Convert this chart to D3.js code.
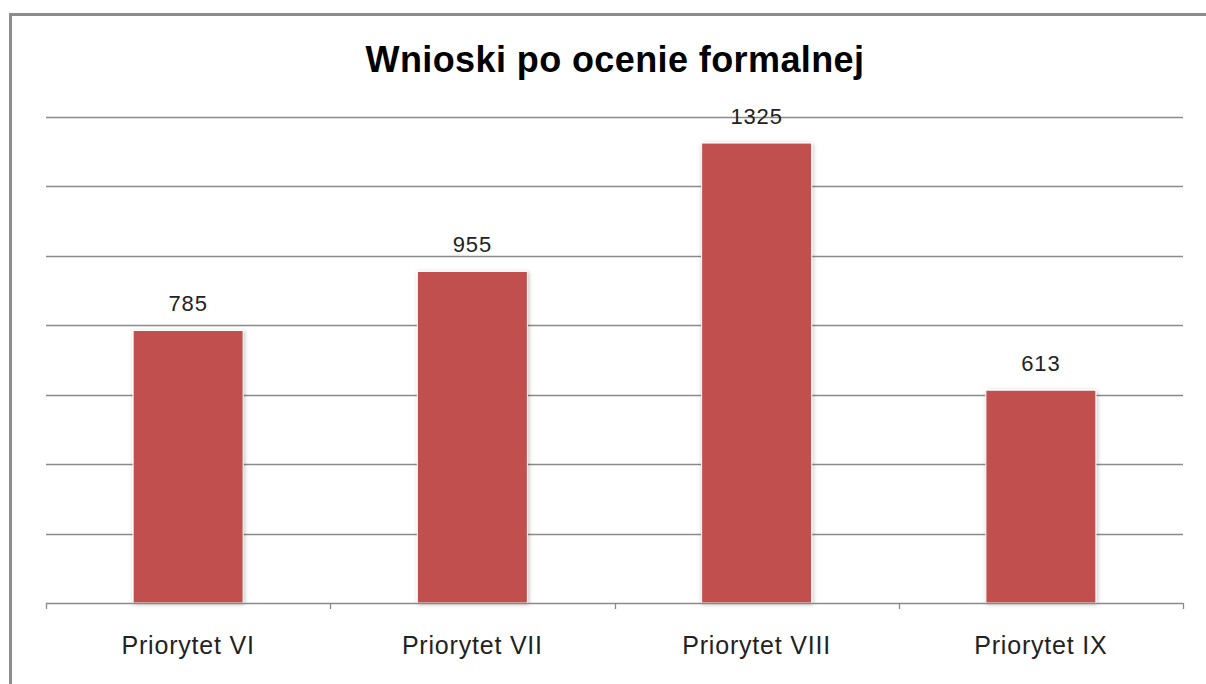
<!DOCTYPE html>
<meta charset="utf-8">
<script src="https://cdn.jsdelivr.net/npm/d3@7"></script>
<style>
body {margin: 0; background: #fff;}
svg text {font-family: "Liberation Sans", Arial, sans-serif;}
.title {font-size: 36px; font-weight: bold; text-anchor: middle; fill: #000; letter-spacing: 0.4px;}
.label-val {font-size: 22px; text-anchor: middle; fill: #222; letter-spacing: 0.8px;}
.label-cat {font-size: 25px; text-anchor: middle; fill: #222; letter-spacing: 0.8px;}
.grid line {stroke: #8a8a8a; stroke-width: 1.3;}
</style>
<div id="vis"></div>
<script>

// Data
const categories = ["Priorytet VI", "Priorytet VII", "Priorytet VIII", "Priorytet IX"];
const values = [785, 955, 1325, 613];
const gridTicks = [0, 200, 400, 600, 800, 1000, 1200, 1400];

const w = 1206, h = 684;
const margin = {top: 117, right: 23, bottom: 81, left: 46};
const width = w - margin.left - margin.right,
    height = h - margin.top - margin.bottom;

let svg = d3.select("#vis").append("svg")
    .attr("width", w)
    .attr("height", h);

// shadow for bars
let defs = svg.append("defs");
let f = defs.append("filter").attr("id", "shadow")
    .attr("x", "-20%").attr("y", "-10%").attr("width", "140%").attr("height", "120%");
f.append("feDropShadow").attr("dx", 1).attr("dy", 1).attr("stdDeviation", 2)
    .attr("flood-color", "#000").attr("flood-opacity", 0.25);

// outer frame (left and top edges only are visible)
svg.append("path")
    .attr("d", "M10.5," + h + " V14.5 H" + w)
    .attr("fill", "none")
    .attr("stroke", "#8c8c8c")
    .attr("stroke-width", 3);

svg.append("text")
    .attr("class", "title")
    .attr("x", 615)
    .attr("y", 72)
    .text("Wnioski po ocenie formalnej");

let g = svg.append("g")
    .attr("transform", "translate(" + margin.left + "," + margin.top + ")");

let x = d3.scaleBand()
    .domain(categories)
    .range([0, width])
    .paddingInner(0.613)
    .paddingOuter(0.3065);

let y = d3.scaleLinear()
    .domain([0, 1400])
    .range([height, 0]);

// gridlines
g.append("g")
    .attr("class", "grid")
    .selectAll("line")
    .data(gridTicks.slice(1))
  .enter().append("line")
    .attr("x1", 0)
    .attr("x2", width)
    .attr("y1", d => Math.round(y(d)) + 0.5)
    .attr("y2", d => Math.round(y(d)) + 0.5);

// bars
g.selectAll(".bar")
    .data(values)
  .enter().append("rect")
    .attr("class", "bar")
    .attr("x", (d, i) => x(categories[i]))
    .attr("y", d => y(d))
    .attr("width", x.bandwidth())
    .attr("height", d => height - y(d))
    .attr("fill", "#c0504d")
    .attr("stroke", "#ffffff")
    .attr("stroke-width", 1)
    .attr("filter", "url(#shadow)");

// x axis with ticks between categories
let step = width / categories.length;
let xa = g.append("g")
    .attr("transform", "translate(0," + height + ")");
xa.append("line")
    .attr("x1", 0).attr("x2", width)
    .attr("y1", 0.5).attr("y2", 0.5)
    .attr("stroke", "#8a8a8a").attr("stroke-width", 1.3);
xa.selectAll(".tick")
    .data(d3.range(categories.length + 1))
  .enter().append("line")
    .attr("x1", d => Math.round(d * step) + 0.5)
    .attr("x2", d => Math.round(d * step) + 0.5)
    .attr("y1", 0).attr("y2", 6)
    .attr("stroke", "#8a8a8a").attr("stroke-width", 1.3);

// category labels
g.selectAll(".label-cat")
    .data(categories)
  .enter().append("text")
    .attr("class", "label-cat")
    .attr("x", d => x(d) + x.bandwidth() / 2)
    .attr("y", height + 51)
    .text(d => d);

// value labels
g.selectAll(".label-val")
    .data(values)
  .enter().append("text")
    .attr("class", "label-val")
    .attr("x", (d, i) => x(categories[i]) + x.bandwidth() / 2)
    .attr("y", d => y(d) - 19)
    .text(d => d);

</script>
